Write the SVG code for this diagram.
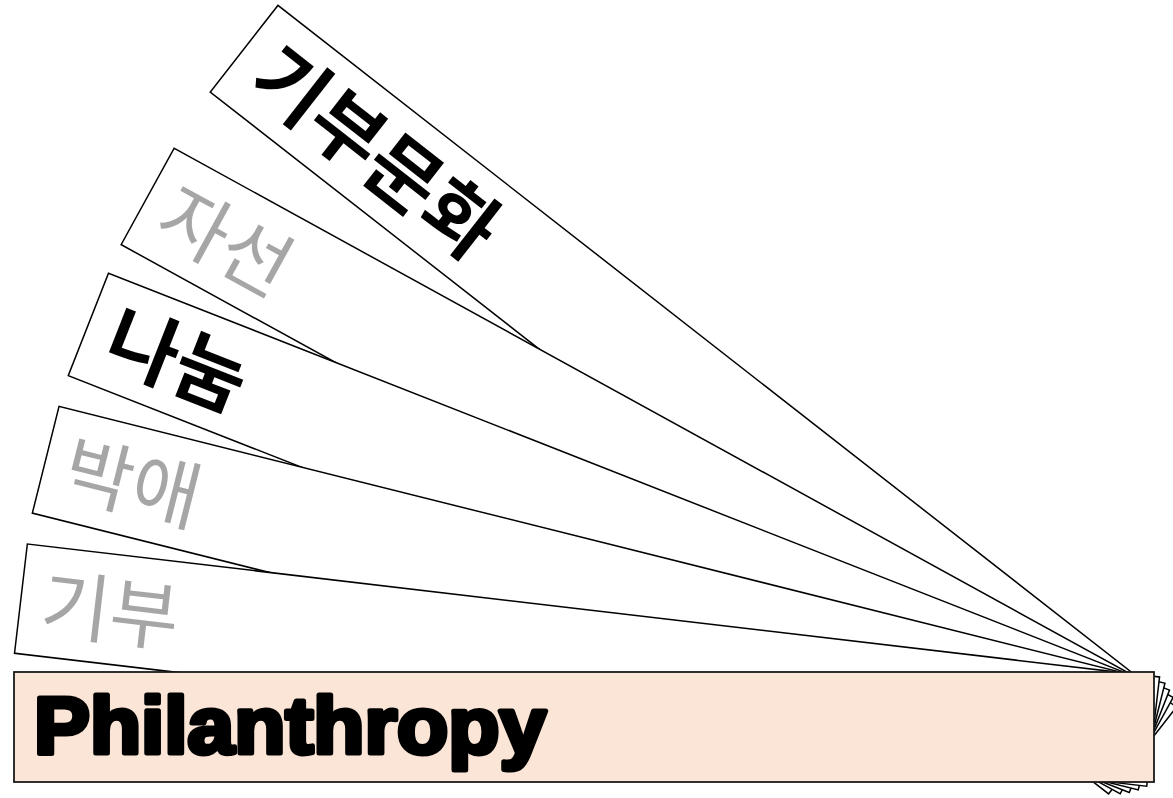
<svg xmlns="http://www.w3.org/2000/svg" width="1173" height="798" viewBox="0 0 1173 798">
<style>
.card{fill:#FFFFFF;stroke:#000000;stroke-width:1.5}
.base{fill:#FBE5D6;stroke:#1a1a1a;stroke-width:1.8}
.ko{font-family:"Noto Sans CJK KR","Noto Sans CJK SC",sans-serif}
.bold{font-weight:700;fill:#000000;font-size:78px}
.gray{font-weight:400;fill:#A6A6A6;font-size:75px}
.en{font-family:"Liberation Sans",Arial,sans-serif;font-weight:700;font-size:80px;fill:#000000;stroke:#000000;stroke-width:5;stroke-linejoin:round}
</style>
<rect width="1173" height="798" fill="#FFFFFF"/>
<g id="node-gibumunhwa" transform="rotate(38 1114 722)">
<rect class="card" x="14" y="672" width="1140" height="110"/>
<text class="ko bold" x="38" y="756">기부문화</text>
</g>
<g id="node-jaseon" transform="rotate(28.8 1114 722)">
<rect class="card" x="14" y="672" width="1140" height="110"/>
<text class="ko gray" x="35" y="756">자선</text>
</g>
<g id="node-nanum" transform="rotate(21.45 1114 722)">
<rect class="card" x="14" y="672" width="1140" height="110"/>
<text class="ko bold" x="38" y="756">나눔</text>
</g>
<g id="node-bakae" transform="rotate(14.05 1114 722)">
<rect class="card" x="14" y="672" width="1140" height="110"/>
<text class="ko gray" x="35" y="756">박애</text>
</g>
<g id="node-gibu" transform="rotate(6.7 1114 722)">
<rect class="card" x="14" y="672" width="1140" height="110"/>
<text class="ko gray" x="35" y="756">기부</text>
</g>
<g id="node-philanthropy">
<rect class="base" x="14" y="672" width="1140" height="110"/>
<text class="en" x="34" y="753" textLength="512" lengthAdjust="spacingAndGlyphs">Philanthropy</text>
</g>
</svg>
